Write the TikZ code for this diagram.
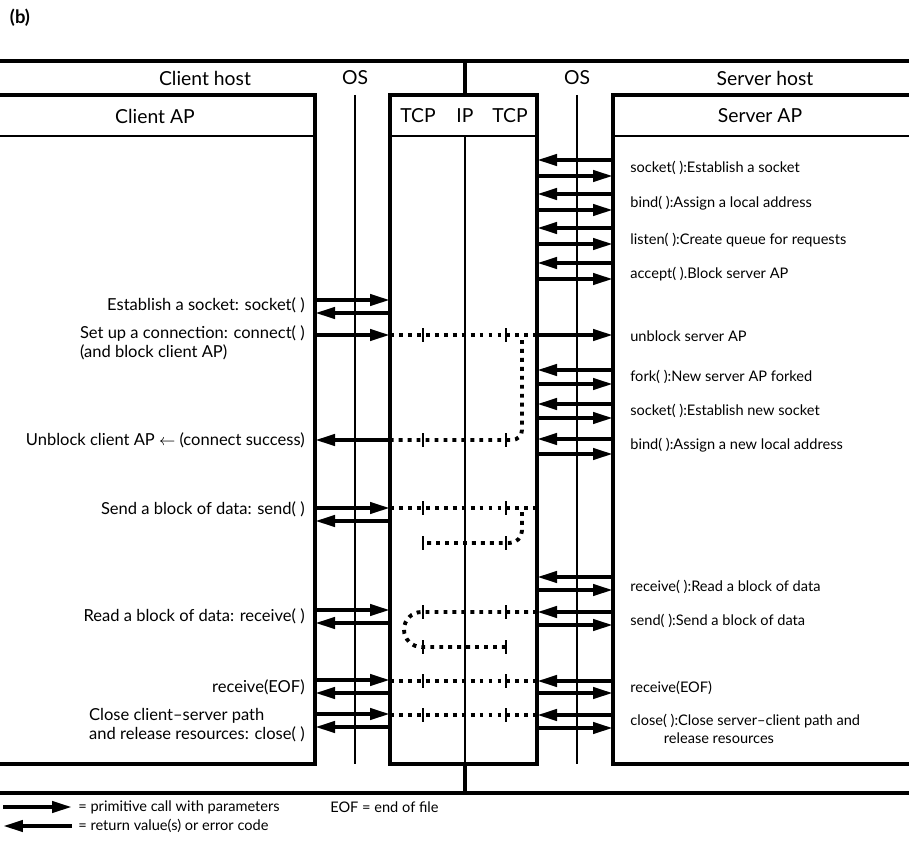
\documentclass[tikz,border=0pt]{standalone}
\usepackage{fontspec}
\setmainfont{Lato}
\usetikzlibrary{arrows.meta}

\begin{document}
\begin{tikzpicture}[x=0.02cm, y=-0.02cm,
  thickline/.style={line width=2.6pt},
  thinline/.style={line width=0.8pt},
  prim/.style={line width=2.3pt, -{Triangle[length=0.4cm, width=0.22cm]}},
  dots/.style={line width=2.2pt, dash pattern=on 2.2pt off 2.9pt},
  tick/.style={line width=0.8pt},
  hdr/.style={font=\fontsize{11}{13}\selectfont, inner sep=0pt},
  lbl/.style={font=\fontsize{8.3}{9.8}\selectfont, inner sep=0pt},
  lftlbl/.style={font=\fontsize{9.4}{10.6}\selectfont, inner sep=0pt, anchor=east, align=left},
  rgtlbl/.style={lbl, anchor=west, align=left}
]
\useasboundingbox (0,0) rectangle (909,855);

% box edges and turning points
\coordinate (cR) at (315,0);
\coordinate (tL) at (390,0);
\coordinate (tR) at (537,0);
\coordinate (sL) at (613,0);
\coordinate (tkA) at (423,0);
\coordinate (tkB) at (506,0);
\coordinate (turnR) at (522,0);
\coordinate (turnL) at (404,0);

\node[font=\bfseries\fontsize{10.5}{12}\selectfont, inner sep=0pt] (title) at (20,18) {(b)};

% rails
\draw[thickline] (0,61) -- (909,61);
\draw[thickline] (0,793) -- (909,793);
\draw[thickline] (465,61) -- (465,95);
\draw[thickline] (465,764) -- (465,793);

% client, tcp/ip and server boxes
\draw[thickline] (0,95) -- (cR|-0,95) -- (cR|-0,764) -- (0,764);
\draw[thinline] (0,136) -- (cR|-0,136);
\draw[thickline] (tL|-0,95) rectangle (tR|-0,764);
\draw[thinline] (tL|-0,136) -- (tR|-0,136);
\draw[thinline] (465,136) -- (465,764);
\draw[thickline] (909,95) -- (sL|-0,95) -- (sL|-0,764) -- (909,764);
\draw[thinline] (sL|-0,136) -- (909,136);
\draw[thinline] (355,95) -- (355,764);
\draw[thinline] (577,95) -- (577,764);

\node[hdr] (chost) at (205,78) {Client host};
\node[hdr] (cos) at (355,78) {OS};
\node[hdr] (sos) at (577,78) {OS};
\node[hdr] (shost) at (765,78) {Server host};
\node[hdr] (cap) at (155,116) {Client AP};
\node[hdr] (tcpa) at (418,116) {TCP};
\node[hdr] (ip) at (465,116) {IP};
\node[hdr] (tcpb) at (510,116) {TCP};
\node[hdr] (sap) at (760,116) {Server AP};

% client side calls
\foreach \y/\z in {300/313,508/521,610/623,680/693,714/727} {
  \draw[prim] (cR|-0,\y) -- (tL|-0,\y);
  \draw[prim] (tL|-0,\z) -- (cR|-0,\z);
}
\draw[prim] (cR|-0,335) -- (tL|-0,335);
\draw[prim] (tL|-0,440) -- (cR|-0,440);

% server side calls
\foreach \y/\z in {160/176,194/210,228/244,263/279,370/384,404/418,439/454,577/590,612/625,681/693,715/728} {
  \draw[prim] (sL|-0,\y) -- (tR|-0,\y);
  \draw[prim] (tR|-0,\z) -- (sL|-0,\z);
}
\draw[prim] (tR|-0,335) -- (sL|-0,335);

% segments through tcp/ip
\foreach \y in {335,508,681,715}
  \draw[dots] (tL|-0,\y) -- (tR|-0,\y);
\draw[dots, rounded corners=0.2cm] (turnR|-0,340) -- (turnR|-0,440) -- (tL|-0,440);
\draw[dots, rounded corners=0.25cm] (turnR|-0,512) -- (turnR|-0,543) -- (tkA|-0,543);
\draw[dots, rounded corners=0.35cm] (tR|-0,612) -- (turnL|-0,612) -- (turnL|-0,647) -- (tkB|-0,647);
\foreach \y in {335,440,508,543,612,647,681,715} {
  \draw[tick] (tkA|-0,\y-7) -- (tkA|-0,\y+7);
  \draw[tick] (tkB|-0,\y-7) -- (tkB|-0,\y+7);
}

% client labels
\foreach \i/\y/\t in {1/305/{Establish a socket: socket( )},
                      3/440/{Unblock client AP \ensuremath{\leftarrow} (connect success)},
                      4/509/{Send a block of data: send( )},
                      5/616/{Read a block of data: receive( )},
                      6/687/{receive(EOF)}}
  \node[lftlbl] (l\i) at (305,\y) {\t};
\node[lftlbl] (l2) at (305,343) {Set up a connection: connect( )\\(and block client AP)};
\node[lftlbl] (l7) at (305,725) {Close client--server path\\and release resources: close( )};

% server labels
\foreach \i/\y/\t in {1/168/{socket( ):Establish a socket},
                      2/203/{bind( ):Assign a local address},
                      3/240/{listen( ):Create queue for requests},
                      4/274/{accept( ).Block server AP},
                      5/336/{unblock server AP},
                      6/377/{fork( ):New server AP forked},
                      7/411/{socket( ):Establish new socket},
                      8/445/{bind( ):Assign a new local address},
                      9/587/{receive( ):Read a block of data},
                      10/621/{send( ):Send a block of data},
                      11/688/{receive(EOF)}}
  \node[rgtlbl] (r\i) at (630,\y) {\t};
\node[rgtlbl] (r12) at (630,729) {close( ):Close server--client path and\\\hspace{2.3em}release resources};

% legend
\coordinate (lgA) at (3,807);
\coordinate (lgB) at (72,807);
\coordinate (lgC) at (3,826);
\coordinate (lgD) at (72,826);
\draw[prim] (lgA) -- (lgB);
\draw[prim] (lgD) -- (lgC);
\node[lbl, anchor=west] (lgcall) at (78,807) {= primitive call with parameters};
\node[lbl, anchor=west] (lgeof) at (330,807) {EOF = end of file};
\node[lbl, anchor=west] (lgret) at (78,826) {= return value(s) or error code};

\end{tikzpicture}
\end{document}
